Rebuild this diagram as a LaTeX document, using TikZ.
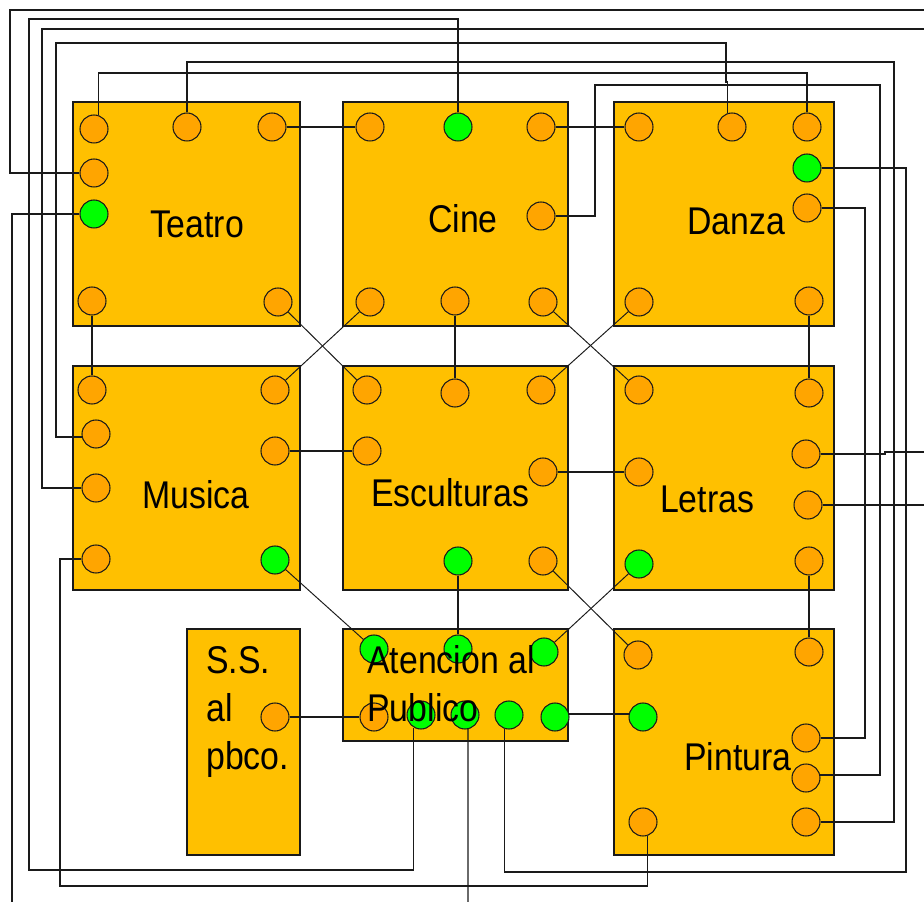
\documentclass[tikz,border=0pt]{standalone}
\usepackage{fontspec}
\setmainfont[FakeStretch=0.875]{Liberation Sans}
\usepackage{xcolor}
\usetikzlibrary{backgrounds}
\definecolor{ink}{HTML}{1A1A1A}
\definecolor{gold}{HTML}{FFC000}
\definecolor{amber}{HTML}{FFA500}
\definecolor{lime}{HTML}{00FF00}
\pgfdeclarelayer{boxes}
\pgfsetlayers{boxes,background,main}
\tikzset{
  room/.style={draw=ink,line width=0.8pt,fill=gold,inner sep=0pt},
  port/.style={circle,draw=ink,line width=0.6pt,fill=amber,minimum size=0.56cm,inner sep=0pt},
  portok/.style={port,fill=lime},
  wire/.style={draw=ink,line width=0.8pt},
  crosswire/.style={draw=ink,line width=0.55pt},
  roomlabel/.style={font=\fontsize{22}{27.2}\selectfont,text=black,align=left,inner sep=0pt}
}

\begin{document}
\begin{tikzpicture}[x=0.02cm,y=-0.02cm]
  \useasboundingbox (0,0) rectangle (924,902);
  \begin{pgfonlayer}{boxes}
    \foreach \name/\x/\y/\w/\h in {Teatro/186.5/214/227/224,Cine/455.5/214/225/224,Danza/724/214/220/224,
      Musica/186.5/478/227/224,Esculturas/455.5/478/225/224,Letras/724/478/220/224,
      SSalpbco/243.5/742/113/226,Atencion/455.5/685/225/112,Pintura/724/742/220/226} {
      \node[room,minimum width=\w*0.02cm,minimum height=\h*0.02cm] (\name) at (\x,\y) {};
    }
  \end{pgfonlayer}
  \foreach \name/\x/\y in {te1/94/129,te2/187/127,te3/272/127,te4/94/173,te6/92/301,te7/278/302,
    ci1/370/127,ci3/541/127,ci4/541/216,ci5/370/302,ci6/455/301,ci7/543/302,
    da1/639/127,da2/732/127,da3/807/127,da5/807/208,da6/639/302,da7/809/301,
    mu1/92/390,mu2/96/434,mu3/96/488,mu4/96/559,mu5/275/390,mu6/275/451,
    es1/367/390,es2/455/393,es3/541/390,es4/367/451,es5/543/472,es7/543/561,
    le1/639/390,le2/809/393,le3/806/454,le4/808/505,le5/639/472,le7/809/561,
    at4/374/717,ss1/275/717,
    pi1/638/655,pi2/809/652,pi4/806/738,pi5/806/778,pi6/806/822,pi7/643/822} {
    \node[port] (\name) at (\x,\y) {};
  }
  \foreach \name/\x/\y in {te5/94/214,ci2/458/127,da4/807/168,mu7/275/560,es6/458/561,le6/639/564,
    at1/374/649,at2/458/649,at3/544/652,at5/421/715,at6/465/715,at7/509/715,at8/555/717,pi3/643/717} {
    \node[portok] (\name) at (\x,\y) {};
  }
  \coordinate (offtopa) at (924,10);
  \coordinate (offtopb) at (924,29);
  \coordinate (offrighta) at (924,452);
  \coordinate (offrightb) at (924,505);
  \coordinate (offbotleft) at (12,902);
  \coordinate (offbotmid) at (468,902);
  \begin{scope}[on background layer]
    \foreach \a/\b in {te3/ci1,ci3/da1,te6/mu1,ci6/es2,da7/le2,mu6/es4,es5/le5,es6/at2,le7/pi2,ss1/at4} {
      \draw[wire] (\a) -- (\b);
    }
    \foreach \a/\b in {te7/es1,ci5/mu5,ci7/le1,da6/es3,mu7/at1,es7/pi1,le6/at3} {
      \draw[crosswire] (\a) -- (\b);
    }
    \draw[wire] (at8.12) -- (pi3.168);
    \draw[wire] (te4) -| (10,10) -- (offtopa);
    \draw[wire] (te5) -| (offbotleft);
    \draw[wire] (te1.73) |- (807,73) -- (da3);
    \draw[wire] (te2) |- (894,62) |- (pi6);
    \draw[wire] (ci2) |- (29,19) -- (29,870) -| (at5.240);
    \draw[wire] (ci4) -| (595,85) -- (880,85) |- (pi5.12);
    \draw[wire] (da2.107) |- (726,82) -- (726,43) -- (56,43) |- (mu2.192);
    \draw[wire] (da4) -| (906,872) -| (at7.253);
    \draw[wire] (da5) -| (865,738) -- (pi4);
    \draw[wire] (mu3) -| (42,29) -- (offtopb);
    \draw[wire] (mu4) -| (60,886) -| (pi7.287);
    \draw[wire] (le3) -- (885,454) -- (885,452) -- (offrighta);
    \draw[wire] (le4) -- (offrightb);
    \draw[wire] (at6.282) -- (offbotmid);
  \end{scope}
  \foreach \name/\x/\y in {Teatro/197/224,Cine/463/219,Danza/736/221,Musica/196/495,
    Esculturas/450/493,Letras/707/499,Pintura/738/757} {
    \node[roomlabel] (lab\name) at (\x,\y) {\name};
  }
  \node[roomlabel,anchor=west] (labSS) at (206,712) {S.S.\\al\\pbco.};
  \node[roomlabel,anchor=west] (labAtencion) at (367,684) {Atencion al\\Publico};
\end{tikzpicture}
\end{document}
